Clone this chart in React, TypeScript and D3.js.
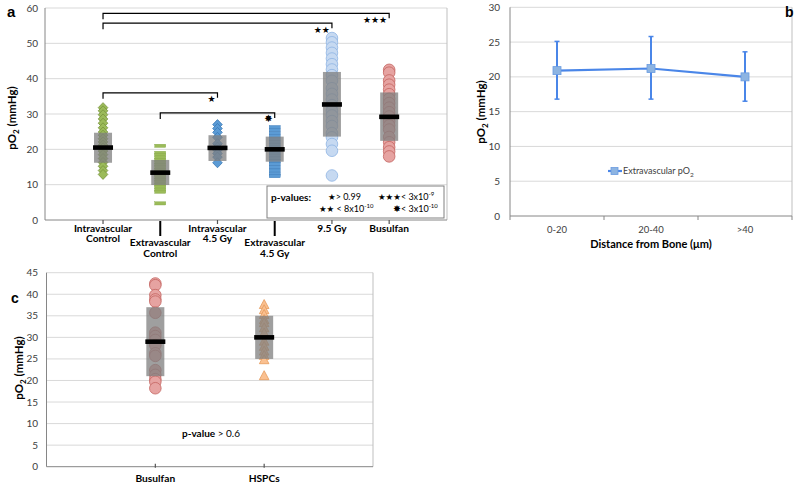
import React from "react";
import * as d3 from "d3";

// ---------- Panel a data ----------
const aLabelLines = [
  ["Intravascular", "Control"],
  ["Extravascular", "Control"],
  ["Intravascular", "4.5 Gy"],
  ["Extravascular", "4.5 Gy"],
  ["9.5 Gy"],
  ["Busulfan"],
];
const intraControl = [31.8, 30.9, 29.8, 28.6, 27.4, 26.1, 24.9, 24.0, 23.0, 22.1, 21.2, 20.4, 19.5, 18.5, 17.4, 16.3, 15.2, 14.0, 12.9];
const extraControl = [21.0, 19.0, 18.4, 17.7, 17.0, 16.3, 15.6, 14.9, 14.2, 13.5, 12.8, 12.1, 11.4, 10.7, 10.0, 9.3, 8.6, 8.0, 4.7];
const intra45 = [27.0, 25.9, 24.8, 23.4, 21.6, 20.6, 19.8, 18.8, 17.8, 16.2];
const extra45 = [26.3, 25.5, 24.6, 23.8, 22.9, 22.1, 21.3, 20.5, 19.8, 19.0, 18.2, 17.4, 16.6, 15.8, 14.9, 14.0, 13.1, 12.4];
const gy95 = [51.5, 50.3, 48.8, 47.3, 45.7, 44.1, 42.6, 41.0, 39.4, 37.3, 35.7, 34.1, 32.5, 30.9, 29.6, 28.0, 26.6, 24.6, 23.4, 21.5, 19.6, 12.6];
const busulfanA = [42.5, 41.7, 39.5, 38.3, 36.9, 35.6, 34.3, 33.1, 31.8, 30.5, 29.3, 28.0, 26.8, 25.6, 23.5, 22.0, 20.6, 19.4, 18.0];
const aGroups = [intraControl, extraControl, intra45, extra45, gy95, busulfanA];
const aMeans = [20.5, 13.4, 20.4, 20.0, 32.7, 29.2];
const aBoxLow = [16.2, 9.9, 16.7, 16.5, 23.6, 22.4];
const aBoxHigh = [24.7, 17.0, 24.0, 23.6, 41.9, 36.1];
const aTicks = [0, 10, 20, 30, 40, 50, 60];
const aBrackets = [
  { from: 0, to: 5, value: 58.5, mark: "★★★" },
  { from: 0, to: 4, value: 55.7, mark: "★★" },
  { from: 0, to: 2, value: 36.0, mark: "★" },
  { from: 1, to: 3, value: 30.3, mark: "✸" },
];

// ---------- Panel b data ----------
const bCategories = ["0-20", "20-40", ">40"];
const bMeans = [20.9, 21.2, 20.0];
const bLow = [16.8, 16.8, 16.5];
const bHigh = [25.1, 25.8, 23.6];
const bTicks = [0, 5, 10, 15, 20, 25, 30];

// ---------- Panel c data ----------
const cCategories = ["Busulfan", "HSPCs"];
const busulfanC = [42.5, 42.1, 39.8, 38.8, 38.3, 35.7, 31.1, 30.3, 29.4, 28.2, 26.3, 25.7, 22.4, 21.3, 20.3, 19.7, 18.2];
const hspcs = [37.5, 36.3, 35.2, 34.0, 33.3, 32.1, 30.9, 29.0, 27.8, 26.7, 25.7, 24.7, 21.0];
const cGroups = [busulfanC, hspcs];
const cMeans = [29.0, 30.0];
const cBoxLow = [21.0, 25.0];
const cBoxHigh = [37.0, 35.0];
const cTicks = [0, 5, 10, 15, 20, 25, 30, 35, 40, 45];

// ---------- styles ----------
const FONT = "Lato, 'Open Sans', sans-serif";
const STAR = "'DejaVu Sans', sans-serif";
const GRID = "#D9D9D9";
const BORDER = "#BFBFBF";
const AXIS = "#868686";
const TICKTXT = "#404040";

const aStyles = [
  { shape: "diamond", fill: "#9BBB59", stroke: "#77933C" },
  { shape: "dash", fill: "#9BBB59", stroke: "#86A84A" },
  { shape: "diamond", fill: "#5B9BD5", stroke: "#3A78B5" },
  { shape: "dash", fill: "#5B9BD5", stroke: "#3A78B5" },
  { shape: "circle", fill: "#C6D9F1", stroke: "#8EB4E3" },
  { shape: "circle", fill: "#E6A3A1", stroke: "#C46461" },
];
const cStyles = [
  { shape: "circle", fill: "#E6A3A1", stroke: "#C46461" },
  { shape: "triangle", fill: "#FAC090", stroke: "#E59A5C" },
];

function Marker({ shape, x, y, fill, stroke }: any) {
  if (shape === "diamond")
    return <path d={`M${x},${y - 5}L${x + 4.8},${y}L${x},${y + 5}L${x - 4.8},${y}Z`} fill={fill} stroke={stroke} strokeWidth={0.8} />;
  if (shape === "dash")
    return <rect x={x - 5.5} y={y - 1.6} width={11} height={3.2} fill={fill} stroke={stroke} strokeWidth={0.4} />;
  if (shape === "triangle")
    return <path d={`M${x},${y - 5.5}L${x + 4.8},${y + 3.5}L${x - 4.8},${y + 3.5}Z`} fill={fill} stroke={stroke} strokeWidth={0.8} />;
  return <circle cx={x} cy={y} r={5.8} fill={fill} stroke={stroke} strokeWidth={0.8} />;
}

function YTitle({ x, y }: { x: number; y: number }) {
  return (
    <text transform={`translate(${x},${y}) rotate(-90)`} textAnchor="middle" fontFamily={FONT} fontWeight="bold" fontSize={11.5} fill="#000">
      pO<tspan dy={3} fontSize={8}>2</tspan>
      <tspan dy={-3}> (mmHg)</tspan>
    </text>
  );
}

export default function App() {
  // Panel a scales
  const xA = d3.scaleLinear().domain([0, 7]).range([45.8, 446.4]);
  const yA = d3.scaleLinear().domain([0, 60]).range([220, 8]);
  const aL = 45, aR = 447;

  // Panel b scales
  const xB = d3.scaleBand().domain(bCategories).range([510, 792]).padding(0);
  const yB = d3.scaleLinear().domain([0, 30]).range([216, 7.3]);
  const bLine = d3.line<number>().x((_, i) => (xB(bCategories[i]) as number) + xB.bandwidth() / 2).y((d) => yB(d));

  // Panel c scales
  const xC = d3.scaleLinear().domain([0, 3]).range([46.5, 373]);
  const yC = d3.scaleLinear().domain([0, 45]).range([466.7, 272.7]);

  const boxW = 18, barW = 20;

  return (
    <svg width={800} height={488} style={{ position: "absolute", left: 0, top: 0, background: "#fff" }}>
      <rect width={800} height={488} fill="#fff" />

      {/* ================= Panel a ================= */}
      <text x={7} y={17} fontFamily="'Liberation Sans', Arial, sans-serif" fontWeight="bold" fontSize={15}>a</text>
      {aTicks.map((t) => (
        <g key={"ag" + t}>
          {t > 0 && <line x1={aL} x2={aR} y1={yA(t)} y2={yA(t)} stroke={GRID} />}
          <text x={38} y={yA(t) + 3.5} textAnchor="end" fontFamily={FONT} fontSize={10} fill={TICKTXT}>{t}</text>
        </g>
      ))}
      <line x1={aR} x2={aR} y1={yA(60)} y2={yA(0)} stroke={BORDER} />
      <line x1={aL} x2={aL} y1={yA(60)} y2={yA(0)} stroke={AXIS} />
      <line x1={aL} x2={aR} y1={yA(0)} y2={yA(0)} stroke={AXIS} />
      <YTitle x={16} y={118} />

      {aGroups.map((vals, i) => {
        const st = aStyles[i];
        const cx = xA(i + 1);
        return (
          <g key={"agp" + i}>
            {vals.map((v, j) => (
              <Marker key={j} shape={st.shape} x={cx} y={yA(v)} fill={st.fill} stroke={st.stroke} />
            ))}
            <rect x={cx - boxW / 2} y={yA(aBoxHigh[i])} width={boxW} height={yA(aBoxLow[i]) - yA(aBoxHigh[i])} fill="#7F7F7F" opacity={0.75} />
            <rect x={cx - barW / 2} y={yA(aMeans[i]) - 2.3} width={barW} height={4.6} fill="#000" />
          </g>
        );
      })}

      {/* x tick marks & labels */}
      {aLabelLines.map((lines, i) => {
        const cx = xA(i + 1);
        const low = i === 1 || i === 3;
        const base = low ? 246 : 231.5;
        return (
          <g key={"al" + i}>
            {low ? (
              <line x1={cx} x2={cx} y1={221} y2={236} stroke="#000" strokeWidth={2} />
            ) : (
              <line x1={cx} x2={cx} y1={220} y2={224} stroke="#555" strokeWidth={1.2} />
            )}
            {lines.map((ln, k) => (
              <text key={k} x={cx} y={base + k * 10.5} textAnchor="middle" fontFamily={FONT} fontWeight="bold" fontSize={10.2} fill="#000">{ln}</text>
            ))}
          </g>
        );
      })}

      {/* brackets */}
      {aBrackets.map((b, i) => {
        const x1 = xA(b.from + 1), x2 = xA(b.to + 1), y = yA(b.value);
        return (
          <g key={"br" + i}>
            <path d={`M${x1},${y + 6}V${y}H${x2}V${y + 5}`} fill="none" stroke="#000" strokeWidth={1.2} />
            <text x={x2 - 2} y={y + 9.5} textAnchor="end" fontFamily={STAR} fontSize={b.mark === "✸" ? 10 : 9} fill="#000">{b.mark}</text>
          </g>
        );
      })}

      {/* p-value legend */}
      <rect x={267} y={186} width={177} height={32} fill="#fff" stroke="#808080" strokeWidth={1} />
      <text x={271} y={201} fontFamily={FONT} fontWeight="bold" fontSize={10} fill="#000">p-values:</text>
      <text x={328} y={200} fontFamily={FONT} fontSize={9} fill="#000">
        <tspan fontFamily={STAR} fontSize={8.5}>★</tspan>
        <tspan>{"> 0.99"}</tspan>
      </text>
      <text x={378} y={200} fontFamily={FONT} fontSize={9} fill="#000">
        <tspan fontFamily={STAR} fontSize={8.5}>★★★</tspan>
        <tspan>{"< 3x10"}</tspan>
        <tspan dy={-4} fontSize={6}>-9</tspan>
      </text>
      <text x={319} y={212} fontFamily={FONT} fontSize={9} fill="#000">
        <tspan fontFamily={STAR} fontSize={8.5}>★★</tspan>
        <tspan>{" < 8x10"}</tspan>
        <tspan dy={-4} fontSize={6}>-10</tspan>
      </text>
      <text x={393} y={212} fontFamily={FONT} fontSize={9} fill="#000">
        <tspan fontFamily={STAR} fontSize={9.5}>✸</tspan>
        <tspan>{"< 3x10"}</tspan>
        <tspan dy={-4} fontSize={6}>-10</tspan>
      </text>

      {/* ================= Panel b ================= */}
      {bTicks.map((t) => (
        <g key={"bg" + t}>
          {t > 0 && <line x1={510} x2={792} y1={yB(t)} y2={yB(t)} stroke={GRID} />}
          <text x={500} y={yB(t) + 3.5} textAnchor="end" fontFamily={FONT} fontSize={10} fill={TICKTXT}>{t}</text>
        </g>
      ))}
      <line x1={792} x2={792} y1={yB(30)} y2={yB(0)} stroke={BORDER} />
      <line x1={510} x2={510} y1={yB(30)} y2={yB(0)} stroke={AXIS} />
      <line x1={510} x2={792} y1={yB(0)} y2={yB(0)} stroke={AXIS} />
      {[0, 1, 2, 3].map((k) => {
        const x = 510 + k * xB.bandwidth();
        return <line key={"bt" + k} x1={x} x2={x} y1={yB(0)} y2={yB(0) + 4} stroke={AXIS} />;
      })}
      {bCategories.map((c) => (
        <text key={"bc" + c} x={(xB(c) as number) + xB.bandwidth() / 2} y={233} textAnchor="middle" fontFamily={FONT} fontSize={9.5} fill={TICKTXT}>{c}</text>
      ))}
      <text x={651} y={248} textAnchor="middle" fontFamily={FONT} fontWeight="bold" fontSize={11} fill="#000">Distance from Bone (μm)</text>
      <YTitle x={485} y={112} />
      <text x={785} y={17} fontFamily="'Liberation Sans', Arial, sans-serif" fontWeight="bold" fontSize={14}>b</text>

      {bCategories.map((c, i) => {
        const x = (xB(c) as number) + xB.bandwidth() / 2;
        return (
          <g key={"be" + i}>
            <line x1={x} x2={x} y1={yB(bLow[i])} y2={yB(bHigh[i])} stroke="#4A86E8" strokeWidth={2} />
            <line x1={x - 2.5} x2={x + 2.5} y1={yB(bLow[i])} y2={yB(bLow[i])} stroke="#4A86E8" strokeWidth={1.5} />
            <line x1={x - 2.5} x2={x + 2.5} y1={yB(bHigh[i])} y2={yB(bHigh[i])} stroke="#4A86E8" strokeWidth={1.5} />
          </g>
        );
      })}
      <path d={bLine(bMeans) as string} fill="none" stroke="#4A86E8" strokeWidth={2.2} />
      {bCategories.map((c, i) => {
        const x = (xB(c) as number) + xB.bandwidth() / 2;
        return <rect key={"bm" + i} x={x - 4} y={yB(bMeans[i]) - 4} width={8} height={8} fill="#8DB4E2" stroke="#6A9BE0" strokeWidth={0.8} />;
      })}
      {/* legend b */}
      <line x1={608} x2={622} y1={171} y2={171} stroke="#4A86E8" strokeWidth={2.2} />
      <rect x={611} y={167.5} width={7} height={7} fill="#8DB4E2" stroke="#6A9BE0" strokeWidth={0.8} />
      <text x={623} y={174} fontFamily={FONT} fontSize={9} fill={TICKTXT}>
        Extravascular pO<tspan dy={2.5} fontSize={6.5}>2</tspan>
      </text>

      {/* ================= Panel c ================= */}
      <text x={11} y={303} fontFamily="'Liberation Sans', Arial, sans-serif" fontWeight="bold" fontSize={14}>c</text>
      {cTicks.map((t) => (
        <g key={"cg" + t}>
          {t > 0 && <line x1={46.5} x2={373} y1={yC(t)} y2={yC(t)} stroke={GRID} />}
          <text x={38} y={yC(t) + 3.5} textAnchor="end" fontFamily={FONT} fontSize={10} fill={TICKTXT}>{t}</text>
        </g>
      ))}
      <line x1={373} x2={373} y1={yC(45)} y2={yC(0)} stroke={BORDER} />
      <line x1={46.5} x2={46.5} y1={yC(45)} y2={yC(0)} stroke={AXIS} />
      <line x1={46.5} x2={373} y1={yC(0)} y2={yC(0)} stroke={AXIS} />
      <YTitle x={23} y={368} />
      {cGroups.map((vals, i) => {
        const st = cStyles[i];
        const cx = xC(i + 1);
        return (
          <g key={"cgp" + i}>
            <line x1={cx} x2={cx} y1={yC(0) - 3} y2={yC(0) + 1} stroke="#555" strokeWidth={1.2} />
            {vals.map((v, j) => (
              <Marker key={j} shape={st.shape} x={cx} y={yC(v)} fill={st.fill} stroke={st.stroke} />
            ))}
            <rect x={cx - boxW / 2} y={yC(cBoxHigh[i])} width={boxW} height={yC(cBoxLow[i]) - yC(cBoxHigh[i])} fill="#7F7F7F" opacity={0.75} />
            <rect x={cx - barW / 2} y={yC(cMeans[i]) - 2.3} width={barW} height={4.6} fill="#000" />
            <text x={cx} y={481.5} textAnchor="middle" fontFamily={FONT} fontWeight="bold" fontSize={10.2} fill="#000">{cCategories[i]}</text>
          </g>
        );
      })}
      <text x={211} y={437} textAnchor="middle" fontFamily={FONT} fontSize={10} fill="#000">
        <tspan fontWeight="bold">p-value</tspan>
        <tspan>{" > 0.6"}</tspan>
      </text>
    </svg>
  );
}
